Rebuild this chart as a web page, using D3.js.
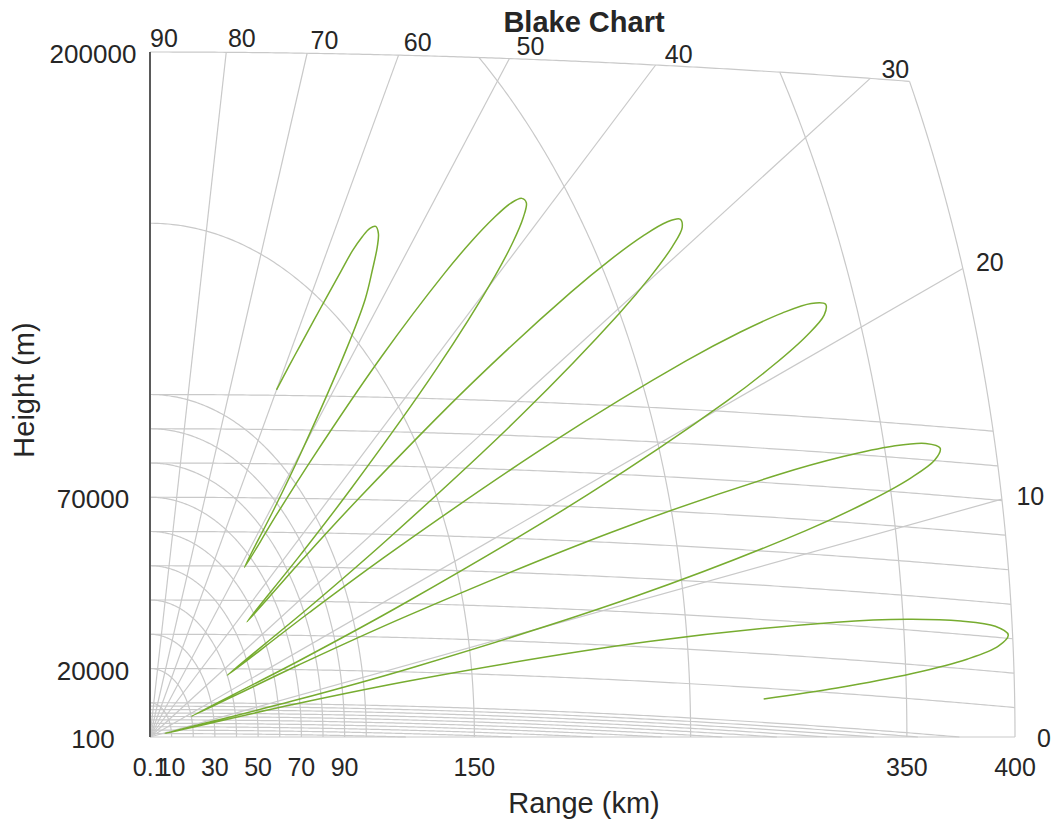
<!DOCTYPE html>
<html><head><meta charset="utf-8">
<script src="https://cdn.jsdelivr.net/npm/d3@7"></script>
<style>body{margin:0;background:#fff}text{font-family:"Liberation Sans",Arial,Helvetica,sans-serif;fill:#262626}</style>
</head><body>
<svg id="c" width="1055" height="821"></svg>
<script>
// ---- data ----
const effEarthRadiusKm = 7000;
const maxRangeKm = 400;
const maxHeightKm = 200;
const angleTicks = [0, 10, 20, 30, 40, 50, 60, 70, 80, 90];
const rangeArcs = [10, 20, 30, 40, 50, 60, 70, 80, 90, 100, 150, 250, 350, 400];
const heightLinesKm = [1, 2, 3, 4, 5, 6, 7, 8, 9, 10, 20, 30, 40, 50, 60, 70, 80, 90, 100, 200];
const rangeTickLabels = [0.1, 10, 30, 50, 70, 90, 150, 350, 400];
const heightTickLabels = [100, 20000, 70000, 200000];
const vcpAngles = [60.00,59.30,58.70,58.10,57.50,57.00,56.60,56.10,55.60,55.00,54.30,53.70,53.00,52.10,51.26,49.91,49.24,48.59,
  47.94,47.30,46.05,44.83,44.23,43.63,43.04,42.45,41.87,41.30,40.73,40.16,39.05,37.95,37.41,36.87,
  36.33,35.80,34.75,33.71,33.20,32.68,32.17,31.67,31.16,30.66,30.17,29.67,28.69,27.71,27.22,26.74,
  26.26,25.79,24.83,23.89,23.42,22.95,22.49,22.02,21.56,21.10,20.64,20.18,19.27,18.36,17.91,17.46,
  17.01,16.56,15.66,14.77,14.33,13.89,13.44,13.00,12.56,12.12,11.68,11.24,10.37,9.50,9.06,8.63,
  8.19,7.76,6.89,6.03,5.60,5.16,4.73,4.30,3.87,3.44,3.01,2.58,2.24];
const vcpRanges = [117,126,134,143,153,162,170,176,180,182,181,177.5,171,162,145,108.3,87.8,66,
  88,110.5,154.2,192.1,207.5,219.6,228.4,233,233.7,229.7,221.5,208.7,170.6,118.2,87.9,56,
  87.7,119.8,181.4,233.9,254.7,271.1,282.4,288,287.6,280.8,268.2,249.5,195.8,123.7,82.8,40,
  82,124.4,204.3,271.1,297.3,317.4,330.9,337,335.2,325.5,308.3,283.8,214.8,124,72.9,20,
  72.1,124.1,221,300.3,330.8,353.7,368.8,375,371.8,359.4,338.5,309.2,228.6,124.4,66.6,7,
  66.1,124.5,232.3,319.2,352.1,376.5,392.2,398,393.2,378.5,353,318,284];

// ---- chart ----
const svg = d3.select("#c");
const a = effEarthRadiusKm, H = maxHeightKm, RM = maxRangeKm;
const x = d3.scaleLinear().domain([0, RM]).range([150, 1015]);
const y = d3.scaleLinear().domain([0, H]).range([737, 52]);
const rad = d => d * Math.PI / 180;
const line = d3.line().x(d => x(d[0])).y(d => y(d[1]));
const heightY = (h, X) => Math.sqrt((a + h) * (a + h) - X * X) - a;

const grid = svg.append("g").attr("fill", "none").attr("stroke", "#c9c9c9").attr("stroke-width", 1.2);

// constant-height curves
heightLinesKm.forEach(h => {
  const X0 = Math.sqrt((a + h) * (a + h) - a * a);
  const q = ((a + h) * (a + h) + a * a - RM * RM) / (2 * a);
  const Xa = Math.sqrt((a + h) * (a + h) - q * q);
  const Xm = Math.min(X0, Xa);
  const pts = d3.range(0, 201).map(i => { const X = Xm * i / 200; return [X, Math.max(0, heightY(h, X))]; });
  grid.append("path").attr("d", line(pts));
});

// constant-range arcs
rangeArcs.forEach(R => {
  const s = ((a + H) * (a + H) - a * a - R * R) / (2 * a * R);
  const thMax = s >= 1 ? Math.PI / 2 : Math.asin(s);
  const pts = d3.range(0, 201).map(i => { const t = thMax * i / 200; return [R * Math.cos(t), R * Math.sin(t)]; });
  grid.append("path").attr("d", line(pts));
});

// elevation rays
const rayEnd = th => {
  const sn = Math.sin(rad(th));
  const Rh = -a * sn + Math.sqrt(a * a * sn * sn + (a + H) * (a + H) - a * a);
  const R = Math.min(RM, Rh);
  return [R * Math.cos(rad(th)), R * Math.sin(rad(th))];
};
angleTicks.forEach(th => {
  grid.append("path").attr("d", line([[0, 0], rayEnd(th)]));
});

// left axis
svg.append("line").attr("x1", x(0)).attr("x2", x(0)).attr("y1", y(0)).attr("y2", y(H))
  .attr("stroke", "#5a5a5a").attr("stroke-width", 2);

// VCP curve
const vcp = vcpAngles.map((t, i) => [vcpRanges[i] * Math.cos(rad(t)), vcpRanges[i] * Math.sin(rad(t))]);
svg.append("path").attr("d", d3.line().x(d => x(d[0])).y(d => y(d[1])).curve(d3.curveCatmullRom.alpha(0.5))(vcp))
  .attr("fill", "none").attr("stroke", "#77AC30").attr("stroke-width", 1.5);

// angle labels
angleTicks.forEach(th => {
  const e = rayEnd(th);
  const px = x(e[0]), py = y(e[1]);
  let dx = x(Math.cos(rad(th))) - x(0), dy = y(Math.sin(rad(th))) - y(0);
  const n = Math.hypot(dx, dy); dx /= n; dy /= n;
  svg.append("text").attr("x", px + dx * 15 + 14).attr("y", py + dy * 15 + 1)
    .attr("text-anchor", "middle").attr("dominant-baseline", "central")
    .style("font-size", "25px").text(th);
});

// range tick labels
rangeTickLabels.forEach(v => {
  svg.append("text").attr("x", x(v)).attr("y", 767).attr("text-anchor", "middle")
    .attr("dominant-baseline", "central").style("font-size", "25px").text(v);
});
// height tick labels
heightTickLabels.forEach(v => {
  svg.append("text").attr("x", 93).attr("y", y(v / 1000) + 2).attr("text-anchor", "middle")
    .attr("dominant-baseline", "central").style("font-size", "26px").text(v);
});

// axis titles
svg.append("text").attr("x", 584).attr("y", 803).attr("text-anchor", "middle")
  .attr("dominant-baseline", "central").style("font-size", "29px").text("Range (km)");
svg.append("text").attr("transform", "translate(24,390) rotate(-90)").attr("text-anchor", "middle")
  .attr("dominant-baseline", "central").style("font-size", "29px").text("Height (m)");
svg.append("text").attr("x", 584).attr("y", 22).attr("text-anchor", "middle")
  .attr("dominant-baseline", "central").style("font-size", "29px").style("font-weight", "bold").text("Blake Chart");
</script>
</body></html>
